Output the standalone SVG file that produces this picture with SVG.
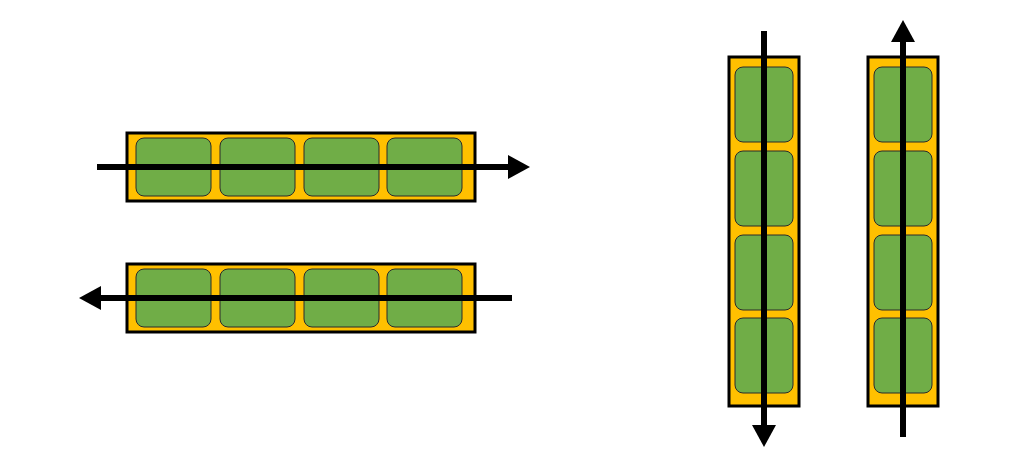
<svg xmlns="http://www.w3.org/2000/svg" width="1015" height="475" viewBox="0 0 1015 475">
<style>
.frame{fill:#FFC000;stroke:#000;stroke-width:3}
.cell{fill:#70AD47;stroke:#2b2b2b;stroke-width:1}
.flow{fill:none;stroke:#000;stroke-width:6;marker-end:url(#head)}
</style>
<defs>
<marker id="head" viewBox="0 0 22 24" refX="0" refY="12" markerWidth="22" markerHeight="24" markerUnits="userSpaceOnUse" orient="auto">
<path d="M0,0 L22,12 L0,24 Z" fill="#000"/>
</marker>
</defs>
<rect width="1015" height="475" fill="#fff"/>
<g id="row-top">
<rect class="frame" x="127" y="133" width="348" height="68"/>
<rect class="cell" x="136" y="138" width="75" height="58" rx="8"/>
<rect class="cell" x="220" y="138" width="75" height="58" rx="8"/>
<rect class="cell" x="304" y="138" width="75" height="58" rx="8"/>
<rect class="cell" x="387" y="138" width="75" height="58" rx="8"/>
</g>
<g id="row-bottom">
<rect class="frame" x="127" y="264" width="348" height="68"/>
<rect class="cell" x="136" y="269" width="75" height="58" rx="8"/>
<rect class="cell" x="220" y="269" width="75" height="58" rx="8"/>
<rect class="cell" x="304" y="269" width="75" height="58" rx="8"/>
<rect class="cell" x="387" y="269" width="75" height="58" rx="8"/>
</g>
<g id="col-left">
<rect class="frame" x="729" y="57" width="70" height="349"/>
<rect class="cell" x="735" y="67" width="58" height="75" rx="8"/>
<rect class="cell" x="735" y="151" width="58" height="75" rx="8"/>
<rect class="cell" x="735" y="235" width="58" height="75" rx="8"/>
<rect class="cell" x="735" y="318" width="58" height="75" rx="8"/>
</g>
<g id="col-right">
<rect class="frame" x="868" y="57" width="70" height="349"/>
<rect class="cell" x="874" y="67" width="58" height="75" rx="8"/>
<rect class="cell" x="874" y="151" width="58" height="75" rx="8"/>
<rect class="cell" x="874" y="235" width="58" height="75" rx="8"/>
<rect class="cell" x="874" y="318" width="58" height="75" rx="8"/>
</g>
<g id="connectors">
<path class="flow" d="M97,167 L508,167"/>
<path class="flow" d="M512,298 L101,298"/>
<path class="flow" d="M764,31 L764,425"/>
<path class="flow" d="M903,437 L903,42"/>
</g>
</svg>
